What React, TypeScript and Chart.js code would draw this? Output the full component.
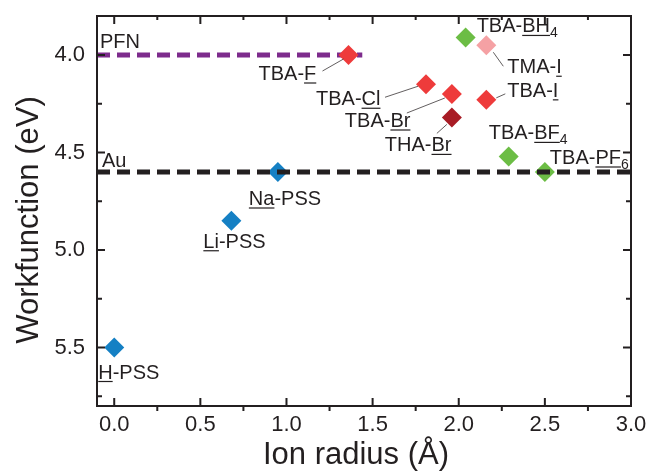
import React, { useEffect, useRef } from "react";
import { Chart, registerables } from "chart.js";

Chart.register(...registerables);

// ---------- data ----------
const compoundNames = [
  "H-PSS", "Li-PSS", "Na-PSS", "TBA-F", "TBA-Cl", "TBA-Br",
  "THA-Br", "TBA-I", "TMA-I", "TBA-BH4", "TBA-BF4", "TBA-PF6",
];
const ionRadius = [0.0, 0.68, 0.95, 1.36, 1.81, 1.96, 1.96, 2.16, 2.16, 2.04, 2.29, 2.5];
const workfunction = [5.5, 4.85, 4.6, 4.0, 4.15, 4.2, 4.32, 4.23, 3.95, 3.91, 4.52, 4.6];

const pfnLevel = 4.0;
const pfnRadiusRange = [-0.1, 1.44];
const auLevel = 4.6;
const auRadiusRange = [-0.1, 3.0];

const xTickValues = [0.0, 0.5, 1.0, 1.5, 2.0, 2.5, 3.0];
const xMinorTickValues = [0.25, 0.75, 1.25, 1.75, 2.25, 2.75];
const yTickValues = [4.0, 4.5, 5.0, 5.5];
const yMinorTickValues = [4.25, 4.75, 5.25, 5.75];

// ---------- styles ----------
const BLUE = "#1580c4";
const RED = "#ee3b3b";
const DARKRED = "#a81c25";
const PINK = "#f5a1a4";
const GREEN = "#6cbd45";
const PURPLE = "#7d2b8c";
const INK = "#231f20";
const FONT = "'Liberation Sans', Arial, Helvetica, sans-serif";

const pointColors = [BLUE, BLUE, BLUE, RED, RED, RED, DARKRED, RED, PINK, GREEN, GREEN, GREEN];

// label text pieces: n = normal, u = underlined, s = subscript
const labelParts: [string, string][][] = [
  [["H", "u"], ["-PSS", "n"]],
  [["Li", "u"], ["-PSS", "n"]],
  [["Na", "u"], ["-PSS", "n"]],
  [["TBA-", "n"], ["F", "u"]],
  [["TBA-", "n"], ["Cl", "u"]],
  [["TBA-", "n"], ["Br", "u"]],
  [["THA-", "n"], ["Br", "u"]],
  [["TBA-", "n"], ["I", "u"]],
  [["TMA-", "n"], ["I", "u"]],
  [["TBA-", "n"], ["BH", "u"], ["4", "s"]],
  [["TBA-", "n"], ["BF", "u"], ["4", "s"]],
  [["TBA-", "n"], ["PF", "u"], ["6", "s"]],
];
// pixel offsets of label (left, baseline) relative to its marker
const labelOffsets: number[][] = [
  [-16, 31], [-28, 27], [-29, 33], [-90, 25], [-110, 21], [-107, 33],
  [-67, 34], [21, -3], [21, 28], [11, -5], [-20, -17], [5, -8],
];
// leader line (x1,y1,x2,y2) relative to marker
const leaderLines: (number[] | null)[] = [
  null, null, null, [-26, 16, -5, 4], [-41, 13, -8, 2], [-45, 19, -7, 4],
  [-15, 16, -5, 7], [10, -2, 19, -6], [7, 7, 17, 21], null, null, null,
];

function drawRichLabel(ctx: CanvasRenderingContext2D, parts: [string, string][], x: number, y: number) {
  let cx = x;
  for (const [txt, kind] of parts) {
    if (kind === "s") {
      ctx.font = `14px ${FONT}`;
      ctx.fillText(txt, cx, y + 5);
      cx += ctx.measureText(txt).width;
    } else {
      ctx.font = `20px ${FONT}`;
      ctx.fillText(txt, cx, y);
      const w = ctx.measureText(txt).width;
      if (kind === "u") {
        ctx.beginPath();
        ctx.lineWidth = 1.2;
        ctx.moveTo(cx, y + 3);
        ctx.lineTo(cx + w, y + 3);
        ctx.stroke();
      }
      cx += w;
    }
  }
}

const decorPlugin = {
  id: "decor",
  afterDraw(chart: any) {
    const ctx: CanvasRenderingContext2D = chart.ctx;
    const { left, right, top, bottom } = chart.chartArea;
    const xs = chart.scales.x;
    const ys = chart.scales.y;
    ctx.save();
    ctx.strokeStyle = INK;
    ctx.fillStyle = INK;

    // frame
    ctx.lineWidth = 2;
    ctx.strokeRect(left, top, right - left, bottom - top);

    // ticks
    ctx.lineWidth = 2;
    ctx.beginPath();
    for (const v of xTickValues) {
      const px = xs.getPixelForValue(v);
      ctx.moveTo(px, bottom); ctx.lineTo(px, bottom - 8);
      ctx.moveTo(px, top); ctx.lineTo(px, top + 8);
    }
    for (const v of xMinorTickValues) {
      const px = xs.getPixelForValue(v);
      ctx.moveTo(px, bottom); ctx.lineTo(px, bottom + 5);
      ctx.moveTo(px, top); ctx.lineTo(px, top + 4);
    }
    for (const v of yTickValues) {
      const py = ys.getPixelForValue(v);
      ctx.moveTo(left, py); ctx.lineTo(left + 8, py);
      ctx.moveTo(right, py); ctx.lineTo(right - 8, py);
    }
    for (const v of yMinorTickValues) {
      const py = ys.getPixelForValue(v);
      ctx.moveTo(left, py); ctx.lineTo(left + 5, py);
      ctx.moveTo(right, py); ctx.lineTo(right - 5, py);
    }
    ctx.stroke();

    // reference line labels
    ctx.textAlign = "left";
    ctx.textBaseline = "alphabetic";
    ctx.font = `20px ${FONT}`;
    ctx.fillText("PFN", xs.getPixelForValue(pfnRadiusRange[0]) + 3, ys.getPixelForValue(pfnLevel) - 7);
    ctx.fillText("Au", xs.getPixelForValue(auRadiusRange[0]) + 5, ys.getPixelForValue(auLevel) - 5);

    // compound labels
    for (let i = 0; i < compoundNames.length; i++) {
      const px = xs.getPixelForValue(ionRadius[i]);
      const py = ys.getPixelForValue(workfunction[i]);
      const ll = leaderLines[i];
      if (ll) {
        ctx.beginPath();
        ctx.lineWidth = 0.8;
        ctx.strokeStyle = "#3a3536";
        ctx.moveTo(px + ll[0], py + ll[1]);
        ctx.lineTo(px + ll[2], py + ll[3]);
        ctx.stroke();
        ctx.strokeStyle = INK;
      }
      const [dx, dy] = labelOffsets[i];
      drawRichLabel(ctx, labelParts[i], px + dx, py + dy);
    }

    // axis titles
    ctx.font = `31px ${FONT}`;
    ctx.textAlign = "center";
    ctx.textBaseline = "alphabetic";
    ctx.fillText("Ion radius (\u00C5)", 356, 464);
    ctx.save();
    ctx.translate(38, 220);
    ctx.rotate(-Math.PI / 2);
    ctx.fillText("Workfunction (eV)", 0, 0);
    ctx.restore();

    ctx.restore();
  },
};

function zeroPadding(s: any) {
  s.paddingTop = 0;
  s.paddingBottom = 0;
  s.paddingLeft = 0;
  s.paddingRight = 0;
}

export default function App() {
  const canvasRef = useRef<HTMLCanvasElement | null>(null);

  useEffect(() => {
    const canvas = canvasRef.current;
    if (!canvas) return;
    const chart = new Chart(canvas, {
      type: "scatter",
      data: {
        datasets: [
          {
            type: "line",
            label: "Au",
            data: auRadiusRange.map((x) => ({ x, y: auLevel })),
            borderColor: INK,
            borderWidth: 5,
            borderDash: [13, 7],
            pointRadius: 0,
            fill: false,
            order: 0,
          } as any,
          {
            label: "Compounds",
            data: ionRadius.map((x, i) => ({ x, y: workfunction[i] })),
            pointStyle: "rectRot",
            pointRadius: 10,
            pointHoverRadius: 10,
            backgroundColor: pointColors,
            borderColor: pointColors,
            borderWidth: 0,
            order: 1,
          },
          {
            type: "line",
            label: "PFN",
            data: pfnRadiusRange.map((x) => ({ x, y: pfnLevel })),
            borderColor: PURPLE,
            borderWidth: 5,
            borderDash: [13, 7],
            pointRadius: 0,
            fill: false,
            order: 2,
          } as any,
        ],
      },
      options: {
        responsive: false,
        animation: false,
        events: [],
        layout: { padding: { top: 16, right: 19, left: 0, bottom: 0 } },
        plugins: {
          legend: { display: false },
          tooltip: { enabled: false },
          title: { display: false },
        },
        scales: {
          x: {
            type: "linear",
            min: -0.1,
            max: 3.0,
            grid: { display: false, drawTicks: false },
            border: { display: false },
            ticks: {
              padding: 6,
              color: INK,
              font: { family: FONT, size: 22 },
              callback: (v: any) => Number(v).toFixed(1),
            },
            afterBuildTicks: (s: any) => {
              s.ticks = xTickValues.map((value) => ({ value }));
            },
            afterFit: (s: any) => {
              s.height = 68;
              zeroPadding(s);
            },
          },
          y: {
            type: "linear",
            reverse: true,
            min: 3.8,
            max: 5.8,
            grid: { display: false, drawTicks: false },
            border: { display: false },
            ticks: {
              padding: 12,
              color: INK,
              font: { family: FONT, size: 22 },
              callback: (v: any) => Number(v).toFixed(1),
            },
            afterBuildTicks: (s: any) => {
              s.ticks = yTickValues.map((value) => ({ value }));
            },
            afterFit: (s: any) => {
              s.width = 97;
              zeroPadding(s);
            },
          },
        },
      },
      plugins: [decorPlugin],
    });
    return () => chart.destroy();
  }, []);

  return (
    <div style={{ position: "fixed", left: 0, top: 0, width: 650, height: 474, background: "#fff" }}>
      <canvas ref={canvasRef} width={650} height={474} style={{ display: "block" }} />
    </div>
  );
}
